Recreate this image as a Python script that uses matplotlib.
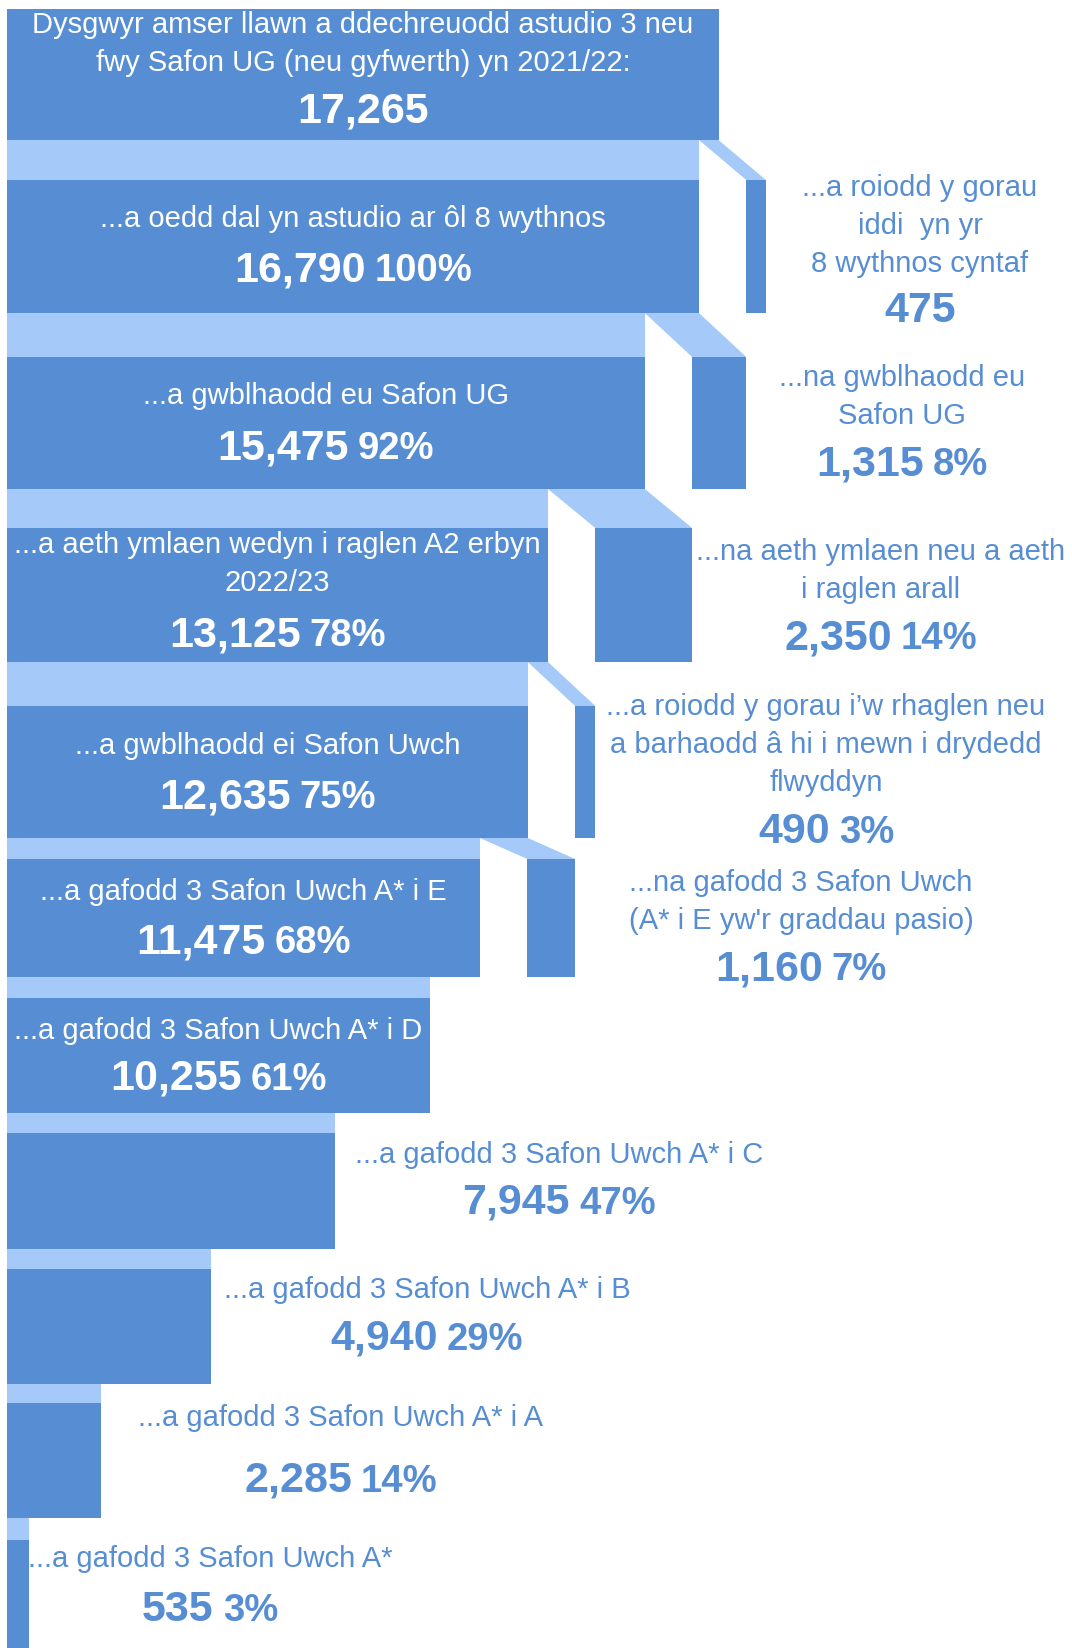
import matplotlib
matplotlib.use("Agg")
import matplotlib.pyplot as plt
from matplotlib.patches import Polygon

plt.rcParams['font.family'] = ['Liberation Sans', 'DejaVu Sans']

# ==================================================
# Data: learners still on track at each stage
# ==================================================

stage_labels = [
    "Dysgwyr amser llawn a ddechreuodd astudio 3 neu\nfwy Safon UG (neu gyfwerth) yn 2021/22:",
    "...a oedd dal yn astudio ar ôl 8 wythnos",
    "...a gwblhaodd eu Safon UG",
    "...a aeth ymlaen wedyn i raglen A2 erbyn\n2022/23",
    "...a gwblhaodd ei Safon Uwch",
    "...a gafodd 3 Safon Uwch A* i E",
    "...a gafodd 3 Safon Uwch A* i D",
    "...a gafodd 3 Safon Uwch A* i C",
    "...a gafodd 3 Safon Uwch A* i B",
    "...a gafodd 3 Safon Uwch A* i A",
    "...a gafodd 3 Safon Uwch A*",
]
stage_counts = [17265, 16790, 15475, 13125, 12635, 11475, 10255, 7945, 4940, 2285, 535]
stage_pcts = [None, 100, 92, 78, 75, 68, 61, 47, 29, 14, 3]

# learners who dropped out, shown beside stages 1-5
drop_labels = [
    "...a roiodd y gorau\niddi  yn yr\n8 wythnos cyntaf",
    "...na gwblhaodd eu\nSafon UG",
    "...na aeth ymlaen neu a aeth\ni raglen arall",
    "...a roiodd y gorau i’w rhaglen neu\na barhaodd â hi i mewn i drydedd\nflwyddyn",
    "...na gafodd 3 Safon Uwch\n(A* i E yw'r graddau pasio)",
]
drop_counts = [475, 1315, 2350, 490, 1160]
drop_pcts = [None, 8, 14, 3, 7]

# ==================================================
# Layout (pixels from the top of the figure)
# ==================================================

row_top = [9, 180, 357, 528, 706, 859, 998, 1133, 1269, 1403, 1540]
row_bot = [140, 313, 489, 662, 838, 977, 1113, 1249, 1384, 1518, 1660]

# label positions: x centre (None = centre of bar), first line y, number y
stage_lx = [None, None, None, None, None, None, None, 559, 427, 341, 210]
stage_ly = [23, 217, 394, 543, 744, 890, 1029, 1153, 1288, 1416, 1557]
stage_ny = [107, 266, 444, 631, 793, 938, 1075, 1199, 1335, 1477, 1606]

drop_lx = [920, 902, 881, 826, 801]
drop_ly = [186, 376, 550, 705, 881]
drop_ny = [307, 460, 634, 828, 965]

dark = '#568dd3'
light = '#a5c9f8'

W, H = 1072, 1648
px_per_unit = 0.0412
left_px = 7.2

fig = plt.figure(figsize=(W / 100, H / 100), dpi=100)
ax = fig.add_axes([0, 0, 1, 1])
ax.set_xlim(-left_px / px_per_unit, (W - left_px) / px_per_unit)
ax.set_ylim(H, 0)
ax.axis('off')

# main bars
centers = [(t + b) / 2 for t, b in zip(row_top, row_bot)]
heights = [b - t for t, b in zip(row_top, row_bot)]
ax.barh(centers, stage_counts, height=heights, left=0, color=dark, linewidth=0)

# light connector bands between stages
band_c = [(row_bot[i] + row_top[i + 1]) / 2 for i in range(len(stage_counts) - 1)]
band_h = [row_top[i + 1] - row_bot[i] for i in range(len(stage_counts) - 1)]
ax.barh(band_c, stage_counts[1:], height=band_h, left=0, color=light, linewidth=0)

# side bars for drop-outs, stacked leftwards from a fixed right edge
side_right = []
side_left = []
edge = stage_counts[0] + 1150
for d in drop_counts:
    side_right.append(edge)
    side_left.append(edge - d)
    edge = edge - d

n_side = len(drop_counts)
ax.barh(centers[1:1 + n_side], drop_counts, height=heights[1:1 + n_side],
        left=side_left, color=dark, linewidth=0)

# diagonal ribbons from the dropped part to the side bar
for i in range(n_side):
    y0 = row_bot[i]
    y1 = row_top[i + 1]
    poly = Polygon([(stage_counts[i + 1], y0), (stage_counts[i], y0),
                    (side_right[i], y1), (side_left[i], y1)],
                   closed=True, color=light, linewidth=0)
    ax.add_patch(poly)

renderer = fig.canvas.get_renderer()
to_data = ax.transData.inverted()


def text_lines(x, y, text, color):
    for k, line in enumerate(text.split('\n')):
        ax.text(x, y + 38 * k + 10, line, ha='center', va='baseline',
                fontsize=21, color=color)


def number_label(x, y, count, pct, color):
    t1 = ax.text(x, y + 15, f"{count:,}", ha='left', va='baseline',
                 fontsize=31, fontweight='bold', color=color)
    w1 = t1.get_window_extent(renderer).width
    if pct is None:
        t1.set_ha('center')
        return
    t2 = ax.text(x, y + 15, f"{pct}%", ha='left', va='baseline',
                 fontsize=27.5, fontweight='bold', color=color)
    w2 = t2.get_window_extent(renderer).width
    gap = 9
    xc = ax.transData.transform((x, 0))[0]
    x0 = xc - (w1 + gap + w2) / 2
    t1.set_x(to_data.transform((x0, 0))[0])
    t2.set_x(to_data.transform((x0 + w1 + gap, 0))[0])


for i, lab in enumerate(stage_labels):
    if stage_lx[i] is None:
        x = stage_counts[i] / 2
        col = 'white'
    else:
        x = to_data.transform((stage_lx[i], 0))[0]
        col = dark
    text_lines(x, stage_ly[i], lab, col)
    number_label(x, stage_ny[i], stage_counts[i], stage_pcts[i], col)

for i, lab in enumerate(drop_labels):
    x = to_data.transform((drop_lx[i], 0))[0]
    text_lines(x, drop_ly[i], lab, dark)
    number_label(x, drop_ny[i], drop_counts[i], drop_pcts[i], dark)

fig.savefig('out.png', dpi=100)
